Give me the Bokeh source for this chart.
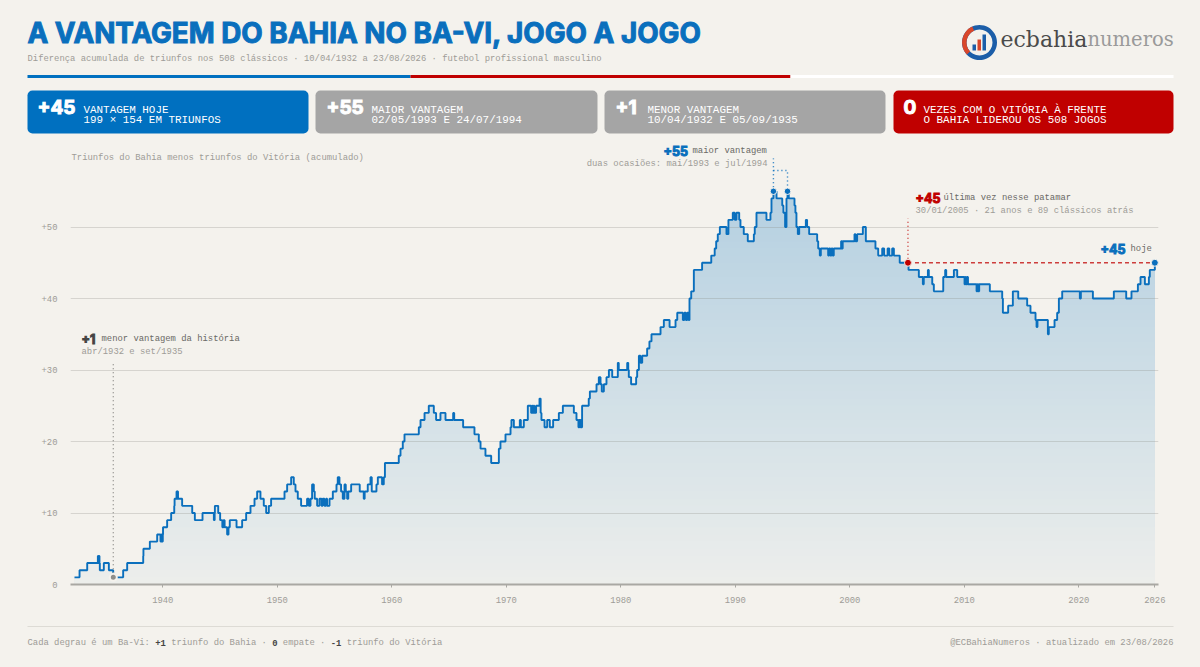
from bokeh.core.properties import value
from bokeh.embed import file_html
from bokeh.layouts import column
from bokeh.models import FixedTicker
from bokeh.plotting import figure
from bokeh.resources import INLINE

# data: date of each change, running Bahia lead
anos = [
    1932.29, 1932.73, 1933.40, 1934.33, 1934.38, 1934.42, 1934.47, 1934.50, 1934.85, 1935.29, 1935.67, 1936.54,
    1936.89, 1938.29, 1938.31, 1938.87, 1939.51, 1939.80, 1939.88, 1939.95, 1940.00, 1940.02, 1940.38, 1940.73,
    1941.00, 1941.03, 1941.20, 1941.25, 1941.28, 1941.33, 1941.69, 1942.57, 1942.80, 1943.47, 1944.46, 1944.53,
    1944.55, 1944.84, 1945.01, 1945.20, 1945.30, 1945.40, 1945.62, 1945.74, 1945.85, 1946.44, 1946.93, 1947.28,
    1947.66, 1948.01, 1948.24, 1948.53, 1948.82, 1949.03, 1949.26, 1949.46,
    1950.63, 1950.86, 1951.21, 1951.44, 1951.59, 1951.79, 1952.08, 1952.60, 1952.75, 1952.90, 1953.04, 1953.19,
    1953.27, 1953.48, 1953.68, 1953.86, 1953.97, 1954.12, 1954.26, 1954.35, 1954.56, 1954.85, 1955.17, 1955.28,
    1955.43, 1955.57, 1955.72, 1955.87, 1955.98, 1956.10, 1956.20, 1956.45, 1957.20, 1957.55, 1957.63, 1957.90,
    1958.14, 1958.25, 1958.66, 1958.78, 1959.15, 1959.30, 1959.40,
    1960.61, 1960.76, 1960.96, 1961.11, 1962.36, 1962.51, 1962.86, 1963.23, 1963.67, 1963.87, 1964.25, 1964.69,
    1965.36, 1965.45, 1966.23, 1967.22, 1967.60, 1967.75, 1968.18, 1968.68, 1969.35, 1969.49, 1969.93,
    1970.37, 1970.45, 1970.66, 1971.18, 1971.27, 1971.53, 1971.88, 1972.17, 1972.25, 1972.30, 1972.38, 1972.45,
    1972.60, 1972.90, 1973.00, 1973.07, 1973.34, 1973.57, 1973.80, 1974.09, 1974.59, 1974.94, 1975.90, 1976.13,
    1976.30, 1976.36, 1976.42, 1976.48, 1976.54, 1976.62, 1977.20, 1977.30, 1977.88, 1978.08, 1978.23, 1978.34,
    1978.52, 1978.75, 1978.96, 1979.25, 1979.74, 1979.82,
    1980.56, 1980.65, 1980.70, 1980.90, 1981.34, 1981.43, 1981.58, 1981.72, 1981.87, 1982.30, 1982.50, 1982.68,
    1983.47, 1983.76, 1984.26, 1984.78, 1984.93, 1985.42, 1985.55, 1985.68, 1985.80, 1985.92, 1986.00, 1986.15,
    1986.38, 1987.10, 1987.90, 1988.20, 1988.33, 1988.47, 1988.65, 1989.23, 1989.40, 1989.78, 1989.95,
    1990.10, 1990.34, 1990.45, 1990.74, 1991.09, 1991.62, 1991.70, 1991.85, 1992.72, 1993.07, 1993.16, 1993.33,
    1993.60, 1994.10, 1994.20, 1994.35, 1994.47, 1994.56, 1994.67, 1995.17, 1995.25, 1995.34, 1995.46, 1995.58,
    1996.16, 1996.27, 1996.45, 1997.15, 1997.24, 1997.38, 1997.47, 1998.11, 1998.20, 1998.30, 1998.40, 1998.50,
    1998.60, 1999.24, 1999.30, 1999.38,
    2000.41, 2000.50, 2000.64, 2001.14, 2001.40, 2002.24, 2002.48, 2002.83, 2003.00, 2003.30,
    2003.45, 2003.70, 2003.85, 2004.36, 2005.13, 2006.03, 2006.38, 2006.46, 2006.82, 2006.90, 2007.20, 2007.34,
    2008.16, 2008.33, 2008.42, 2009.09, 2009.38,
    2010.02, 2010.10, 2010.17, 2010.25, 2010.32, 2011.07, 2011.15, 2011.22, 2011.30, 2012.23, 2013.31, 2013.37,
    2013.83, 2014.24, 2014.71, 2015.49, 2015.78, 2016.22, 2016.31, 2016.39, 2017.30, 2017.38, 2017.88, 2018.11,
    2018.26, 2018.55,
    2020.09, 2020.18, 2021.23, 2023.06, 2024.14, 2024.60, 2025.16, 2025.39, 2025.77, 2026.12, 2026.20, 2026.64,
]
saldo = [
    1, 2, 3, 4, 3, 4, 3, 2, 3, 2, 1, 2,
    3, 4, 5, 6, 7, 6, 7, 6, 7, 8, 9, 10,
    11, 12, 13, 12, 13, 12, 11, 10, 9, 10, 9, 10,
    11, 10, 9, 8, 9, 8, 7, 8, 9, 8, 9, 10,
    11, 12, 13, 12, 11, 10, 11, 12,
    13, 14, 15, 14, 13, 12, 11, 12, 11, 12, 14, 13,
    12, 11, 12, 11, 12, 11, 12, 11, 12, 13, 14, 15,
    14, 13, 12, 14, 13, 12, 13, 14, 13, 12, 13, 14,
    15, 13, 14, 15, 14, 15, 17,
    18, 19, 20, 21, 22, 23, 24, 25, 24, 23, 24, 23,
    24, 23, 22, 21, 20, 19, 18, 17, 19, 20, 21,
    22, 23, 22, 23, 22, 23, 25, 24, 25, 24, 25, 24,
    25, 26, 24, 23, 22, 23, 22, 23, 24, 25, 24, 23,
    22, 23, 22, 23, 22, 25, 26, 27, 28, 29, 28, 27,
    28, 29, 30, 29, 31, 30,
    31, 30, 29, 28, 29, 30, 32, 31, 32, 33, 34, 35,
    36, 37, 36, 37, 38, 37, 38, 37, 38, 37, 40, 41,
    44, 45, 46, 47, 48, 49, 50, 49, 51, 52, 51,
    52, 51, 50, 49, 48, 49, 50, 52, 51, 52, 54, 55,
    54, 53, 52, 50, 54, 55, 54, 53, 52, 50, 49, 50,
    51, 50, 49, 48, 47, 46, 47, 46, 47, 46, 47, 46,
    47, 48, 47, 48,
    49, 48, 49, 50, 48, 47, 46, 47, 46, 47,
    46, 47, 46, 45, 44, 43, 42, 43, 44, 43, 42, 41,
    43, 44, 43, 44, 43,
    42, 43, 42, 43, 42, 41, 42, 41, 42, 41, 40, 38,
    39, 41, 40, 39, 38, 37, 36, 37, 35, 36, 37, 38,
    40, 41,
    40, 41, 40, 41, 40, 41, 42, 43, 42, 43, 44, 45,
]
assert len(anos) == len(saldo)

y_ticks = [0, 10, 20, 30, 40, 50]
y_labels = ["0", "+10", "+20", "+30", "+40", "+50"]
x_ticks = [1940, 1950, 1960, 1970, 1980, 1990, 2000, 2010, 2020, 2026.64]
x_labels = ["1940", "1950", "1960", "1970", "1980", "1990", "2000", "2010", "2020", "2026"]

menor_ano, menor_val = 1935.68, 1
maior_anos, maior_val = [1993.33, 1994.56], 55
patamar_ano, hoje_ano, hoje_val = 2005.08, 2026.64, 45

card_nums = ["+45", "+55", "+1", "0"]
card_line1 = ["VANTAGEM HOJE", "MAIOR VANTAGEM", "MENOR VANTAGEM", "VEZES COM O VITÓRIA À FRENTE"]
card_line2 = ["199 × 154 EM TRIUNFOS", "02/05/1993 E 24/07/1994", "10/04/1932 E 05/09/1935", "O BAHIA LIDEROU OS 508 JOGOS"]

BG = "#f4f2ed"
BLUE = "#0a6fbd"
RED = "#c00000"
GREY = "#a5a5a5"
SOFT = "#9e9c97"
MID = "#6a6965"
DARK = "#444444"
MONO = "Liberation Mono"
HEAVY = "Inter"
CH = 5.32  # advance of one mono char at 8.87px


def put(p, x, y, s, size, color, font=MONO, style="normal", align="left"):
    extra = {}
    if font == HEAVY:
        style = "bold"
        extra["text_outline_color"] = color
    p.text([x], [y], text=[s], text_font=value(font), text_font_size=size, text_color=color,
           text_font_style=style, text_align=align, text_baseline="alphabetic", **extra)


def strip(top, bottom):
    # decoration panel, ranges are page pixels
    f = figure(width=1200, height=bottom - top, x_range=(0, 1200), y_range=(bottom, top), frame_align=False,
               output_backend="svg", toolbar_location=None, min_border=0,
               background_fill_color=BG, border_fill_color=BG, outline_line_color=None)
    f.axis.visible = False
    f.grid.visible = False
    return f


# header
head = strip(0, 140)
put(head, 27, 32, "A VANTAGEM DO BAHIA NO BA-VI, JOGO A JOGO", "27.8px", BLUE, HEAVY)
put(head, 27, 58, "Diferença acumulada de triunfos nos 508 clássicos · 10/04/1932 a 23/08/2026 · futebol profissional masculino", "8.87px", SOFT)

head.quad(left=[27, 410, 790], right=[410, 790, 1173], top=[74.5] * 3, bottom=[77.5] * 3,
          color=["#0070c0", RED, "#ffffff"], line_color=None)

# logo
head.annular_wedge([979], [42], 13, 17.5, start_angle=[0], end_angle=[6.283], color="#1c5ea8", line_color=None)
head.annular_wedge([979], [42], 13, 17.5, start_angle=[2.0], end_angle=[3.9], color="#d9472b", line_color=None)
head.quad(left=[972, 977, 982], right=[975.5, 980.5, 985.5], top=[44, 39, 34], bottom=[50, 50, 50],
          color=["#1c5ea8", "#d9472b", "#1c5ea8"], line_color=None)
put(head, 1000, 39, "ecbahia", "22px", "#4a4a4a", "DejaVu Serif")
put(head, 1087, 39, "numeros", "19.5px", "#9a9a9a", "DejaVu Serif")

# cards
card_left = [27, 315, 604, 893]
card_right = [308, 597, 885, 1173]
card_fill = ["#0070c0", GREY, GREY, RED]
num_x = [37, 326, 615, 903]
txt_x = [83, 371, 647, 923]
head.quad(left=card_left, right=card_right, top=[90] * 4, bottom=[133] * 4, fill_color=card_fill,
          line_color=None, border_radius=5)
for i in range(4):
    put(head, num_x[i], 106, card_nums[i], "19px", "#ffffff", HEAVY)
    put(head, txt_x[i], 109, card_line1[i], "10.9px", "#ffffff")
    put(head, txt_x[i], 119, card_line2[i], "10.9px", "#ffffff")

# main chart, frame is page x 70-1158 and y 140-584
x0, x1 = 1931.94, 2026.96
y1 = (584 - 140) / 7.15
p = figure(width=1200, height=470, x_range=(x0, x1), y_range=(0, y1), output_backend="svg", frame_align=False,
           toolbar_location=None, min_border_left=70, min_border_right=42, min_border_top=0, min_border_bottom=26,
           background_fill_color=BG, border_fill_color=BG, outline_line_color=None)


def px(x):
    return x0 + (x - 70) * (x1 - x0) / 1088


def py(y):
    return (584 - y) / 7.15


# fade of the area, painted tallest band first
for k in range(56, 0, -1):
    a = 0.03 + 0.23 * k / 55
    c = tuple(round(b + (f - b) * a) for f, b in zip((0, 112, 192), (244, 242, 237)))
    p.varea_step(x=anos, y1=[0] * len(anos), y2=[min(v, k) for v in saldo], step_mode="after",
                 fill_color="#%02x%02x%02x" % c, level="image")

p.xgrid.visible = False
p.ygrid.ticker = FixedTicker(ticks=y_ticks[1:])
p.ygrid.grid_line_color = "#8a8a80"
p.ygrid.grid_line_alpha = 0.28
p.ygrid.grid_line_width = 1

p.yaxis.ticker = FixedTicker(ticks=y_ticks)
p.yaxis.major_label_overrides = dict(zip(y_ticks, y_labels))
p.yaxis.axis_line_color = None
p.yaxis.major_tick_line_color = None
p.yaxis.minor_tick_line_color = None
p.yaxis.major_label_standoff = 7
p.xaxis.ticker = FixedTicker(ticks=x_ticks)
p.xaxis.major_label_overrides = dict(zip(x_ticks, x_labels))
p.xaxis.axis_line_color = "#a9a8a3"
p.xaxis.axis_line_width = 2
p.xaxis.major_tick_line_color = "#a9a8a3"
p.xaxis.major_tick_in = 0
p.xaxis.major_tick_out = 3
p.xaxis.minor_tick_line_color = None
p.xaxis.major_label_standoff = 9
p.axis.major_label_text_font = MONO
p.axis.major_label_text_font_size = "8.87px"
p.axis.major_label_text_color = SOFT

p.step(anos, saldo, mode="after", line_color=BLUE, line_width=1.9)

# guides
p.line([menor_ano, menor_ano], [menor_val, py(362)], line_color="#8f8e8a", line_width=1.4, line_dash="1 3")
p.line([maior_anos[0], maior_anos[0]], [maior_val, py(158)], line_color=BLUE, line_width=1.4, line_dash="1 3")
p.line([maior_anos[0], maior_anos[1], maior_anos[1]], [py(170), py(170), maior_val], line_color=BLUE,
       line_width=1.4, line_dash="1 3")
p.line([patamar_ano, patamar_ano], [hoje_val, py(218)], line_color=RED, line_width=1.4, line_dash="1 3", line_alpha=0.8)
p.line([patamar_ano, hoje_ano], [hoje_val, hoje_val], line_color=RED, line_width=1.4, line_dash="4 3", line_alpha=0.75)

p.scatter([menor_ano], [menor_val], size=7, fill_color="#8f8e8a", line_color=BG, line_width=2)
p.scatter(maior_anos, [maior_val] * 2, size=6.5, fill_color=BLUE, line_color=BG, line_width=1)
p.scatter([patamar_ano], [hoje_val], size=7, fill_color=RED, line_color=BG, line_width=1)
p.scatter([hoje_ano], [hoje_val], size=7, fill_color=BLUE, line_color=BG, line_width=1)

# notes, placed in page pixels
put(p, px(71), py(157), "Triunfos do Bahia menos triunfos do Vitória (acumulado)", "8.87px", SOFT)
put(p, px(663), py(150), "+55", "12.5px", BLUE, HEAVY)
put(p, px(692), py(150), "maior vantagem", "8.87px", MID)
put(p, px(767), py(163), "duas ocasiões: mai/1993 e jul/1994", "8.87px", SOFT, align="right")
put(p, px(915), py(197), "+45", "12.5px", RED, HEAVY)
put(p, px(943), py(197), "última vez nesse patamar", "8.87px", MID)
put(p, px(915), py(210), "30/01/2005 · 21 anos e 89 clássicos atrás", "8.87px", SOFT)
put(p, px(1100), py(248), "+45", "12.5px", BLUE, HEAVY)
put(p, px(1130), py(248), "hoje", "8.87px", MID)
put(p, px(81), py(338), "+1", "12.5px", DARK, HEAVY)
put(p, px(101), py(338), "menor vantagem da história", "8.87px", MID)
put(p, px(81), py(351), "abr/1932 e set/1935", "8.87px", SOFT)

# footer
foot = strip(610, 667)
foot.line([27, 1173], [626, 626], line_color="#dddbd5", line_width=1)
col = 0
for s, bold in [("Cada degrau é um Ba-Vi: ", False), ("+1", True), (" triunfo do Bahia · ", False), ("0", True),
                (" empate · ", False), ("-1", True), (" triunfo do Vitória", False)]:
    lead = len(s) - len(s.lstrip())
    put(foot, 27 + (col + lead) * CH, 642, s.strip(), "8.87px", DARK if bold else SOFT,
        style="bold" if bold else "normal")
    col += len(s)
put(foot, 1173, 642, "@ECBahiaNumeros · atualizado em 23/08/2026", "8.87px", SOFT, align="right")

page = column(head, p, foot, spacing=0)
html = file_html(page, INLINE)
html = html.replace("<head>", "<head><style>html,body{background:%s}</style>" % BG, 1)
open("out.html", "w").write(html)
